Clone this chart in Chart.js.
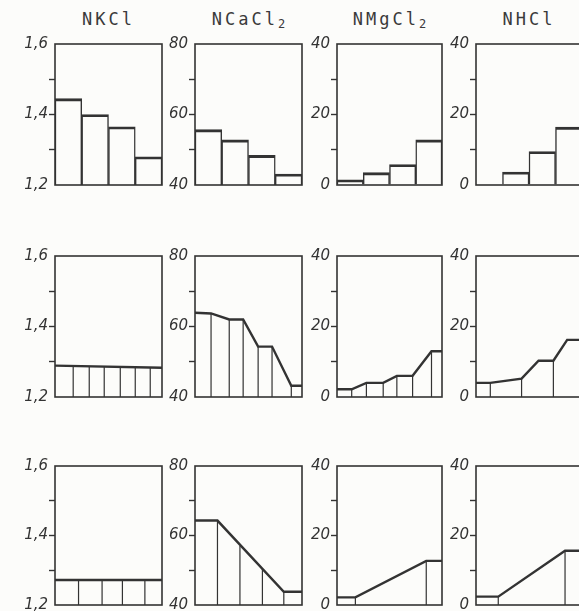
<!DOCTYPE html>
<html>
<head>
<meta charset="utf-8">
<script src="https://cdn.jsdelivr.net/npm/chart.js@4.4.1/dist/chart.umd.min.js"></script>
<style>
    html, body { margin:0; padding:0; width:579px; height:611px; overflow:hidden; background:#fcfcfa; }
    .panel { position:absolute; }
    .title { position:absolute; top:9px; width:140px; margin-left:-70px; text-align:center;
             font:17px "DejaVu Sans Mono", monospace; letter-spacing:3px; color:#3a3a3a; }
    .title sub { font-size:12px; letter-spacing:0; vertical-align:-3px; }
</style>
</head>
<body>
<script>
// Data
const titles = ['NKCl', 'NCaCl<sub>2</sub>', 'NMgCl<sub>2</sub>', 'NHCl'];
const yMin  = [1.2, 40, 0, 0];
const yMax  = [1.6, 80, 40, 40];
const yStep = [0.1, 10, 10, 10];

// row 1 - histograms
const histBins   = ['1', '2', '3', '4'];
const histKCl    = [1.445, 1.40, 1.365, 1.28];
const histCaCl2  = [55.7, 52.8, 48.4, 43.1];
const histMgCl2  = [1.5, 3.5, 5.8, 12.8];
const histHCl    = [0, 3.7, 9.5, 16.4];

// row 2 - profiles (x in % of the panel range)
const midKClX    = [0, 100];
const midKClY    = [1.289, 1.283];
const midKClDivX = [17, 32, 46, 61, 75, 89];
const midKClDivY = [1.288, 1.287, 1.287, 1.286, 1.285, 1.284];

const midCaX     = [0, 15, 32, 45, 59, 72, 90, 100];
const midCaY     = [63.9, 63.7, 62.0, 62.0, 54.3, 54.3, 43.2, 43.2];
const midCaDivX  = [15, 32, 45, 59, 72, 90];
const midCaDivY  = [63.7, 62.0, 62.0, 54.3, 54.3, 43.2];

const midMgX     = [0, 14, 28, 44, 57, 72, 90, 100];
const midMgY     = [2.2, 2.2, 4.0, 4.0, 6.0, 6.0, 13.0, 13.0];
const midMgDivX  = [14, 28, 44, 57, 72, 90];
const midMgDivY  = [2.2, 4.0, 4.0, 6.0, 6.0, 13.0];

const midHX      = [0, 13.5, 43, 59, 73, 86, 100];
const midHY      = [4.0, 4.0, 5.2, 10.3, 10.3, 16.2, 16.2];
const midHDivX   = [13.5, 43, 73];
const midHDivY   = [4.0, 5.2, 10.3];

// row 3 - profiles
const lowKClX    = [0, 100];
const lowKClY    = [1.272, 1.272];
const lowKClDivX = [22, 44, 63, 84];
const lowKClDivY = [1.272, 1.272, 1.272, 1.272];

const lowCaX     = [0, 21, 83, 100];
const lowCaY     = [64.3, 64.3, 43.8, 43.8];
const lowCaDivX  = [21, 42, 63, 83];
const lowCaDivY  = [64.3, 57.0, 50.4, 43.8];

const lowMgX     = [0, 17.5, 85, 100];
const lowMgY     = [2.2, 2.2, 12.7, 12.7];
const lowMgDivX  = [17.5, 85];
const lowMgDivY  = [2.2, 12.7];

const lowHX      = [0, 21, 84, 100];
const lowHY      = [2.4, 2.4, 15.6, 15.6];
const lowHDivX   = [21, 84];
const lowHDivY   = [2.4, 15.6];

// Layout
const colLeft   = [55, 195, 337, 476];
const colWidth  = [107, 107, 105, 106];
const rowTop    = [44, 256, 466];
const rowHeight = [141, 141, 139];
const AXW = 44, PAD = 12, PADR = 6;
const INK = '#333';

const framePlugin = {
    id: 'frame',
    afterDatasetsDraw(chart) {
        const a = chart.chartArea, ctx = chart.ctx;
        ctx.save();
        ctx.strokeStyle = INK;
        ctx.lineWidth = 1.6;
        ctx.strokeRect(a.left, a.top, a.right - a.left, a.bottom - a.top);
        ctx.restore();
    }
};

function yScale(c) {
    return {
        type: 'linear', min: yMin[c], max: yMax[c],
        ticks: {
            stepSize: yStep[c], padding: 1, color: INK, autoSkip: false,
            font: { family: 'DejaVu Sans', size: 15, style: 'italic' },
            callback: (v, i) => i % 2 ? '' : (c === 0 ? v.toFixed(1).replace('.', ',') : String(v))
        },
        grid: {
            drawOnChartArea: false, tickLength: 6, tickWidth: 1.4,
            tickColor: ctx => (ctx.index === 0 || ctx.index === 4) ? 'rgba(0,0,0,0)' : INK
        },
        border: { display: false },
        afterFit: s => { s.width = AXW; }
    };
}

function baseOptions(c) {
    return {
        responsive: false, animation: false, devicePixelRatio: 1,
        layout: { padding: { top: PAD, bottom: PAD, left: 0, right: PADR } },
        plugins: { legend: { display: false }, tooltip: { enabled: false } },
        events: []
    };
}

function makeCanvas(r, c) {
    const div = document.createElement('div');
    div.className = 'panel';
    const w = AXW + colWidth[c] + PADR, h = rowHeight[r] + 2 * PAD;
    div.style.left = (colLeft[c] - AXW) + 'px';
    div.style.top = (rowTop[r] - PAD) + 'px';
    const cv = document.createElement('canvas');
    cv.width = w; cv.height = h;
    cv.style.width = w + 'px'; cv.style.height = h + 'px';
    div.appendChild(cv);
    document.body.appendChild(div);
    return cv;
}

// Histogram row
function histChart(c, values) {
    const opts = baseOptions(c);
    opts.scales = { x: { display: false, offset: true }, y: yScale(c) };
    new Chart(makeCanvas(0, c), {
        type: 'bar',
        data: { labels: histBins, datasets: [{
            data: values, backgroundColor: 'rgba(0,0,0,0)', borderColor: INK,
            borderWidth: { top: 2.2, left: 0.8, right: 0.8, bottom: 0 }, borderSkipped: 'start',
            categoryPercentage: 1, barPercentage: 1
        }]},
        options: opts,
        plugins: [framePlugin]
    });
}

// Profile rows
function profileChart(r, c, xs, ys, divX, divY) {
    const opts = baseOptions(c);
    opts.scales = { x: { type: 'linear', display: false, min: 0, max: 100 }, y: yScale(c) };
    const dividers = divX.flatMap((x, i) => [{ x, y: yMin[c] }, { x, y: divY[i] }, { x, y: null }]);
    new Chart(makeCanvas(r, c), {
        type: 'line',
        data: { datasets: [
            { data: xs.map((x, i) => ({ x, y: ys[i] })), borderColor: INK, borderWidth: 2.4,
              pointRadius: 0, tension: 0, fill: false },
            { data: dividers, borderColor: INK, borderWidth: 1.2, pointRadius: 0,
              spanGaps: false, fill: false }
        ]},
        options: opts,
        plugins: [framePlugin]
    });
}

// Titles
titles.forEach((t, c) => {
    const d = document.createElement('div');
    d.className = 'title';
    d.style.left = (colLeft[c] + colWidth[c] / 2) + 'px';
    d.innerHTML = t;
    document.body.appendChild(d);
});

histChart(0, histKCl);
histChart(1, histCaCl2);
histChart(2, histMgCl2);
histChart(3, histHCl);

profileChart(1, 0, midKClX, midKClY, midKClDivX, midKClDivY);
profileChart(1, 1, midCaX, midCaY, midCaDivX, midCaDivY);
profileChart(1, 2, midMgX, midMgY, midMgDivX, midMgDivY);
profileChart(1, 3, midHX, midHY, midHDivX, midHDivY);

profileChart(2, 0, lowKClX, lowKClY, lowKClDivX, lowKClDivY);
profileChart(2, 1, lowCaX, lowCaY, lowCaDivX, lowCaDivY);
profileChart(2, 2, lowMgX, lowMgY, lowMgDivX, lowMgDivY);
profileChart(2, 3, lowHX, lowHY, lowHDivX, lowHDivY);
</script>
</body>
</html>
